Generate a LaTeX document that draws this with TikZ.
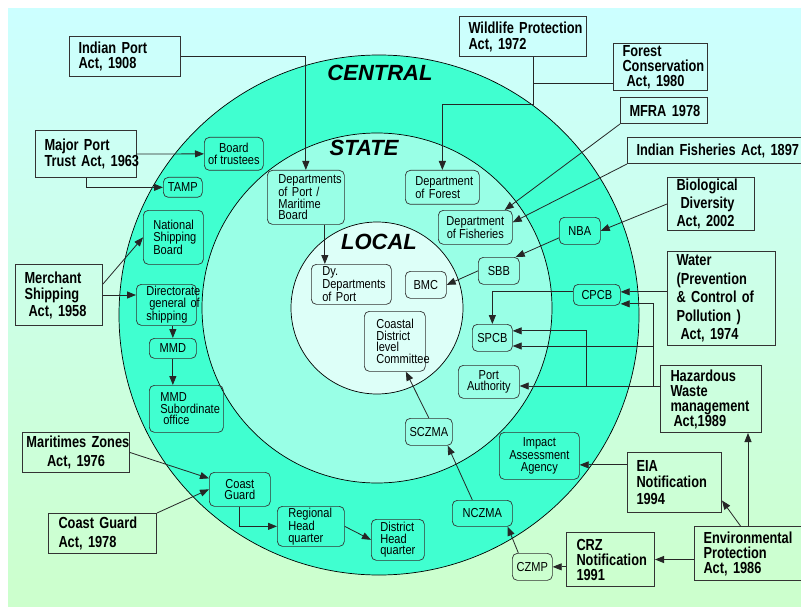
\documentclass[tikz,border=0pt]{standalone}
\usepackage{fontspec}
\setmainfont{Liberation Sans}
\newfontfamily\narrowfont{Liberation Sans}[FakeStretch=0.85]
\newfontfamily\actfont{Liberation Sans}[FakeStretch=0.8]
\usetikzlibrary{arrows.meta}
\hyphenpenalty=10000
\hbadness=10000
\hfuzz=50pt

\definecolor{bgtop}{RGB}{204,255,255}
\definecolor{bgbottom}{RGB}{204,255,204}
\definecolor{centralfill}{RGB}{64,255,208}
\definecolor{statefill}{RGB}{153,255,230}
\definecolor{localfill}{RGB}{221,255,248}
\definecolor{boxline}{RGB}{51,51,51}

\begin{document}
\begin{tikzpicture}[x=1pt, y=-1pt,
    act/.style={draw=boxline, line width=1pt, anchor=north west, align=left,
        inner xsep=9pt, inner ysep=1pt, font=\actfont\bfseries\fontsize{16}{#1}\selectfont},
    act/.default=16,
    unit/.style={draw=boxline, line width=0.7pt, rounded corners=5pt, anchor=north west,
        align=center, inner sep=1pt, font=\narrowfont\fontsize{13}{11.5}\selectfont},
    ringname/.style={font=\fontsize{22}{24}\selectfont\bfseries\itshape},
    conn/.style={draw=black!85, line width=0.8pt, -{Triangle[length=9pt,width=7pt]}},
    wire/.style={draw=black!85, line width=0.8pt}]
    \useasboundingbox (0,0) rectangle (801,607);
    \fill[white] (0,0) rectangle (801,607);
    \shade[top color=bgtop, bottom color=bgbottom] (8,9) rectangle (801,607);

    % the three levels
    \filldraw[fill=centralfill, draw=black, line width=0.7pt] (379,315) circle[radius=260pt];
    \filldraw[fill=statefill, draw=black, line width=0.7pt] (377,308) circle[radius=175pt];
    \filldraw[fill=localfill, draw=black, line width=0.7pt] (377,308) circle[radius=86pt];
    \node[ringname] (central) at (380,73) {CENTRAL};
    \node[ringname] (state) at (364,148) {STATE};
    \node[ringname] (local) at (379,242) {LOCAL};

    % acts and notifications
    \node[act=15.5, text width=93pt, minimum height=40pt] (ipa) at (69,36) {Indian Port\\Act, 1908};
    \node[act, text width=109pt, minimum height=40pt] (wpa) at (459,16) {Wildlife~Protection\\Act, 1972};
    \node[act=15, text width=76pt, minimum height=47pt] (fca) at (613,43) {Forest\\Conservation\\\hspace*{4pt}Act, 1980};
    \node[act, text width=69pt, minimum height=26pt] (mfra) at (620,97) {MFRA~1978};
    \node[act, text width=156pt, minimum height=26pt] (ifa) at (627,137) {Indian~Fisheries~Act,~1897};
    \node[act=18, text width=69pt, minimum height=53pt] (bda) at (667,177) {Biological\\\hspace*{4pt}Diversity\\Act, 2002};
    \node[act=18.5, text width=90pt, minimum height=94pt] (wpc) at (667,251) {Water\\(Prevention\\\&~Control~of\\Pollution~)\\\hspace*{4pt}Act,~1974};
    \node[act=15, inner xsep=10pt, text width=81pt, minimum height=67pt] (hwm) at (660,365) {Hazardous\\Waste\\management\\\hspace*{3pt}Act,1989};
    \node[act=16.5, text width=76pt, minimum height=60pt] (eia) at (627,452) {EIA\\Notification\\1994};
    \node[act=15, text width=89pt, minimum height=54pt] (epa) at (694,526) {Environmental\\Protection\\Act, 1986};
    \node[act=15, inner xsep=10pt, text width=68pt, minimum height=54pt] (crz) at (566,532) {CRZ\\Notification\\1991};
    \node[act=16.5, text width=83pt, minimum height=47pt] (mpt) at (35,130) {Major Port\\Trust~Act,~1963};
    \node[act=16.5, text width=69pt, minimum height=61pt] (msa) at (15,264) {Merchant\\Shipping\\\hspace*{4pt}Act, 1958};
    \node[act=19, align=center, inner xsep=4pt, text width=99pt, minimum height=40pt] (mza) at (22,432) {Maritimes~Zones\\Act, 1976};
    \node[act=19, inner xsep=10pt, text width=88pt, minimum height=40pt] (cga) at (48,513) {Coast Guard\\Act, 1978};

    % central bodies
    \node[unit, minimum width=59pt, minimum height=33pt] (bot) at (204,137) {Board\\of trustees};
    \node[unit, minimum width=39pt, minimum height=20pt] (tamp) at (163,177) {TAMP};
    \node[unit, align=left, inner xsep=10pt, text width=40pt, minimum height=54pt] (nsb) at (143,210) {National\\Shipping\\Board};
    \node[unit, align=left, inner xsep=10pt, text width=40pt, minimum height=41pt] (dgs) at (136,284) {Directorate\\\hspace*{3pt}general~of\\shipping};
    \node[unit, minimum width=47pt, minimum height=20pt] (mmd) at (149,338) {MMD};
    \node[unit, align=left, inner xsep=11pt, text width=52pt, minimum height=47pt] (mso) at (149,385) {MMD\\Subordinate\\\hspace*{3pt}office};
    \node[unit, minimum width=61pt, minimum height=34pt] (cg) at (209,472) {Coast\\Guard};
    \node[unit, align=left, inner xsep=11pt, text width=45pt, minimum height=40pt] (rhq) at (277,506) {Regional\\Head\\quarter};
    \node[unit, align=left, inner xsep=9pt, text width=35pt, minimum height=41pt] (dhq) at (371,519) {District\\Head\\quarter};
    \node[unit, minimum width=41pt, minimum height=27pt] (nba) at (559,217) {NBA};
    \node[unit, minimum width=47pt, minimum height=21pt] (cpcb) at (573,284) {CPCB};
    \node[unit, minimum width=80pt, minimum height=47pt] (iaa) at (499,432) {Impact\\Assessment\\Agency};
    \node[unit, minimum width=60pt, minimum height=26pt] (nczma) at (452,500) {NCZMA};
    \node[unit, minimum width=40pt, minimum height=27pt] (czmp) at (512,553) {CZMP};

    % state bodies
    \node[unit, align=left, inner xsep=11pt, text width=55pt, minimum height=54pt] (dpm) at (267,170) {Departments\\of Port /\\Maritime\\Board};
    \node[unit, align=left, inner xsep=10pt, text width=54pt, minimum height=34pt] (dof) at (405,170) {Department\\of Forest};
    \node[unit, minimum width=74pt, minimum height=34pt] (dfi) at (438,210) {Department\\of Fisheries};
    \node[unit, minimum width=41pt, minimum height=27pt] (sbb) at (478,257) {SBB};
    \node[unit, minimum width=40pt, minimum height=27pt] (spcb) at (472,324) {SPCB};
    \node[unit, minimum width=61pt, minimum height=33pt] (pa) at (458,365) {Port\\Authority};
    \node[unit, minimum width=47pt, minimum height=27pt] (sczma) at (405,418) {SCZMA};

    % local bodies
    \node[unit, align=left, inner xsep=11pt, text width=58pt, minimum height=40pt] (dydp) at (311,264) {Dy.\\Departments\\of Port};
    \node[unit, minimum width=41pt, minimum height=27pt] (bmc) at (405,271) {BMC};
    \node[unit, align=left, inner xsep=12pt, text width=37pt, minimum height=60pt] (cdlc) at (364,311) {Coastal\\District\\level\\Committee};

    % connections
    \draw[conn] (ipa.east) -| (dpm.north);
    \draw[conn] ([xshift=10pt]wpa.south) -- ++(0,47) -| (dof.north);
    \draw[wire] ([yshift=-16pt]fca.west) -| ([xshift=10pt]wpa.south);
    \draw[conn] (mfra.south west) -- ([xshift=-8pt]dfi.north east);
    \draw[conn] (ifa.south west) -- ([yshift=5pt]dfi.east);
    \draw[conn] (bda.west) -- (nba.east);
    \draw[conn] ([yshift=-7pt]nba.west) -- ([xshift=-4pt]sbb.north east);
    \draw[conn] (sbb.west) -- (bmc.east);
    \draw[conn] ([yshift=3pt]cpcb.east -| wpc.west) -- ([yshift=3pt]cpcb.east);
    \draw[conn] ([yshift=3pt]cpcb.west) -| (spcb.north);
    \coordinate (hz) at ([yshift=13pt]hwm.west);
    \coordinate (jw) at ([xshift=-7pt]hz);
    \coordinate (jp) at ([xshift=-74pt]hz);
    \draw[conn] (hz) -- (hz -| pa.east);
    \draw[conn] (jw) |- ([yshift=-9pt]cpcb.east);
    \draw[conn] (jw |- wpc.south) -- (spcb.east |- wpc.south);
    \draw[conn] (jp) |- ([yshift=7pt]spcb.east);
    \draw[conn] (mpt.east) -- (bot.west);
    \draw[conn] (mpt.south) |- (tamp.west);
    \draw[conn] ([yshift=11pt]msa.east) -- (nsb.west);
    \draw[conn] (msa.east) -- (msa.east -| dgs.west);
    \draw[conn] (mmd.north |- dgs.south) -- (mmd.north);
    \draw[conn] (mmd.south) -- (mmd.south |- mso.north);
    \draw[conn] ([xshift=19pt]dpm.south) -- ([xshift=19pt]dpm.south |- dydp.north);
    \draw[conn] (mza.east) -- ([yshift=11pt]cg.west);
    \draw[conn] (cga.north east) -- (cg.west);
    \draw[conn] (cg.south) |- (rhq.west);
    \draw[conn] (rhq.east) -- (dhq.west);
    \draw[conn] ([yshift=-9pt]iaa.east -| eia.west) -- ([yshift=-9pt]iaa.east);
    \draw[conn] ([xshift=-7.5pt]epa.north) -- ([yshift=-18pt]eia.east);
    \draw[conn] (epa.north) -- (epa.north |- hwm.south);
    \draw[conn] (epa.west |- crz.east) -- (crz.east);
    \draw[conn] (crz.west |- czmp.east) -- (czmp.east);
    \draw[conn] ([xshift=-14pt]czmp.north) -- ([xshift=-5pt]nczma.south east);
    \draw[conn] ([xshift=-10pt]nczma.north) -- ([xshift=-5pt]sczma.south east);
    \draw[conn] (sczma.north) -- ([xshift=11pt]cdlc.south);
\end{tikzpicture}
\end{document}
